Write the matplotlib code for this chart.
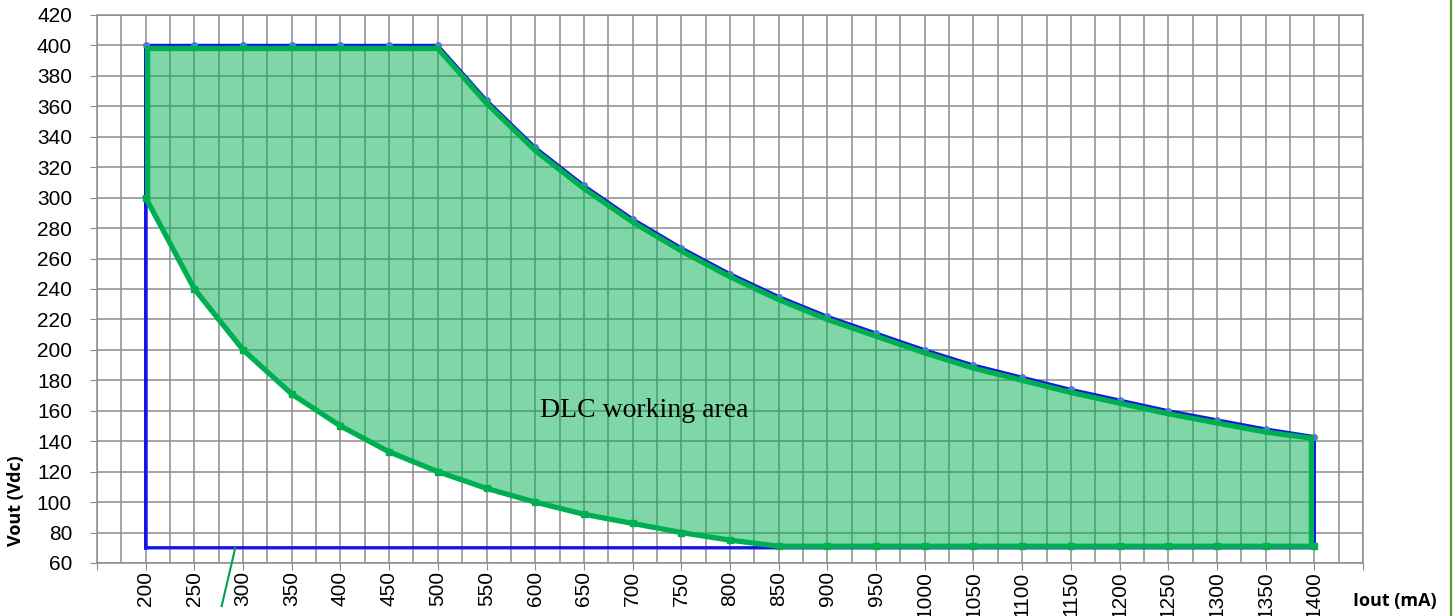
import matplotlib
matplotlib.use("Agg")
import matplotlib.pyplot as plt
from matplotlib.lines import Line2D

# ---- data ----
iout = [200, 250, 300, 350, 400, 450, 500, 550, 600, 650, 700, 750, 800,
        850, 900, 950, 1000, 1050, 1100, 1150, 1200, 1250, 1300, 1350, 1400]
v_max = [400, 400, 400, 400, 400, 400, 400, 364, 333, 308, 286, 267, 250,
         235, 222, 211, 200, 190, 182, 174, 167, 160, 154, 148, 143]
v_min = [300, 240, 200, 171, 150, 133, 120, 109, 100, 92, 86, 80, 75,
         71, 71, 71, 71, 71, 71, 71, 71, 71, 71, 71, 71]
v_floor = 70          # blue lower limit
green_inset_top = 398  # green outline top (drawn just inside the blue)
green_inset_left = 202
green_inset_right = 1397

xtick_labels = [str(v) for v in range(200, 1401, 50)]
ytick_vals = list(range(60, 421, 20))

# ---- figure ----
fig = plt.figure(figsize=(14.55, 6.16), dpi=100)
ax = fig.add_axes([97/1455, 1-563/616, (1363-97)/1455, (563-15)/616])
ax.set_xlim(150, 1450)
ax.set_ylim(60, 420)

# grid
ax.set_xticks(list(range(150, 1451, 50)))
ax.set_xticklabels([""] + xtick_labels + [""], rotation=90, fontsize=15,
                   family=["Liberation Sans", "DejaVu Sans"])
ax.set_xticks(list(range(175, 1451, 50)), minor=True)
ax.set_yticks(ytick_vals)
ax.set_yticklabels([str(v) for v in ytick_vals], fontsize=15,
                   family=["Liberation Sans", "DejaVu Sans"])
ax.grid(True, which="both", color="#8c8c8c", lw=1.1, zorder=0)
ax.set_axisbelow(True)
for s in ax.spines.values():
    s.set_color("#8c8c8c")
    s.set_linewidth(1.1)
ax.tick_params(axis="both", which="major", direction="out", length=5,
               color="#8c8c8c")
ax.tick_params(axis="y", which="major", pad=13)
ax.tick_params(axis="x", which="major", pad=1)
ax.tick_params(axis="x", which="minor", length=0)

# blue outer limit
bx = [iout[0]] + iout + [iout[-1], iout[0], iout[0]]
by = [v_floor] + v_max + [v_floor, v_floor, v_max[0]]
ax.plot(bx, by, color="#1515e8", lw=2.4, zorder=3, solid_joinstyle="miter")
ax.plot(iout, v_max, ls="none", marker="o", ms=4, color="#4a7fd0", zorder=4)

# green working area
gx_top = [green_inset_left] + iout[1:-1] + [green_inset_right]
gy_top = [green_inset_top] + [v - 2 if v < 400 else green_inset_top for v in v_max[1:-1]] + [v_max[-1] - 1]
gx = [iout[0]] + iout[1:-1] + [green_inset_right] + gx_top[::-1] + [green_inset_left, iout[0]]
gy = [v_min[0]] + v_min[1:-1] + [v_min[-1]] + gy_top[::-1] + [v_min[0], v_min[0]]
ax.fill(gx, gy, color="#00b050", alpha=0.5, lw=0, zorder=2)
ax.plot(gx, gy, color="#00b050", lw=3.8, zorder=5, solid_joinstyle="miter")
ax.plot(iout, v_min, ls="none", marker="s", ms=4, color="#00b050", zorder=6)

# callout leader line
ax.add_line(Line2D([292, 278], [70, 31.7], color="#00a050", lw=1.5,
                   clip_on=False, zorder=6))

ax.text(150 + (540-97)/48.7*50, 420 - (417-15)/1.522, "DLC working area",
        fontsize=20, family=["Liberation Serif", "DejaVu Serif"],
        va="baseline", ha="left", zorder=7)

fig.text(16/1455, 1-501/616, "Vout (Vdc)", rotation=90, fontsize=13,
         fontweight="bold", family=["Open Sans", "DejaVu Sans"],
         ha="center", va="center")
fig.text(1395/1455, 1-601/616, "Iout (mA)", fontsize=13, fontweight="bold",
         family=["Open Sans", "DejaVu Sans"], ha="center", va="center")

fig.add_artist(Line2D([1450.5/1455, 1450.5/1455], [0, 1], color="#5b9b2b",
                      lw=1.6, transform=fig.transFigure))

fig.savefig("out.png", dpi=100)
